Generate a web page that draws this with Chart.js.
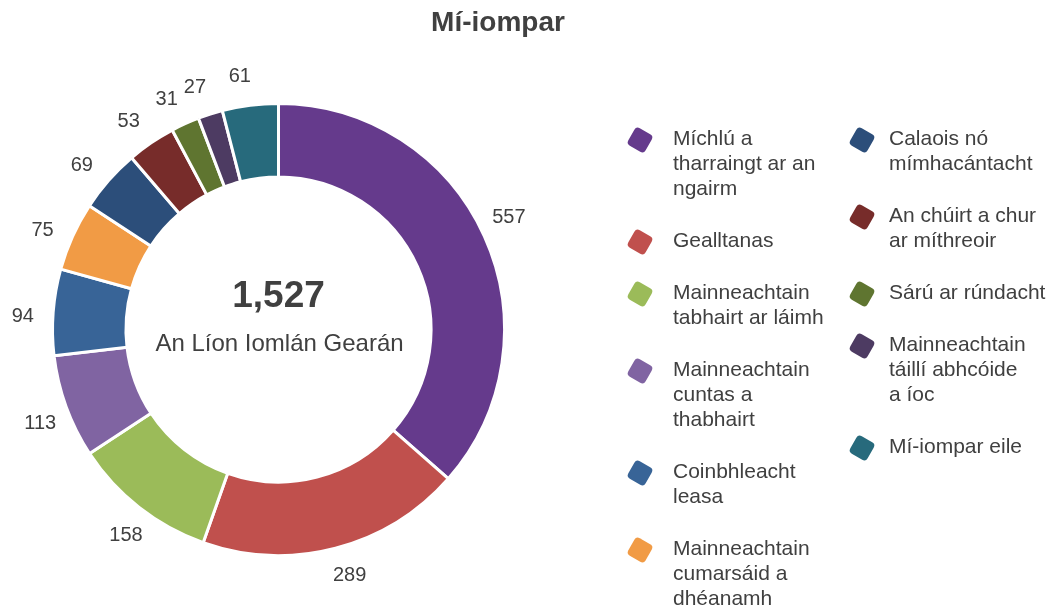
<!DOCTYPE html>
<html>
<head>
<meta charset="utf-8">
<title>Mí-iompar</title>
<script src="https://cdn.jsdelivr.net/npm/chart.js@4"></script>
<style>
  html, body { margin: 0; padding: 0; background: #fff; }
  canvas { display: block; }
</style>
</head>
<body>
<canvas id="myChart" width="1062" height="609"></canvas>
<script>
var title = 'Mí-iompar';
var centerCaption = 'An Líon Iomlán Gearán';

// categories, one array entry per legend line
var categories = [
  ['Míchlú a', 'tharraingt ar an', 'ngairm'],
  ['Gealltanas'],
  ['Mainneachtain', 'tabhairt ar láimh'],
  ['Mainneachtain', 'cuntas a', 'thabhairt'],
  ['Coinbhleacht', 'leasa'],
  ['Mainneachtain', 'cumarsáid a', 'dhéanamh'],
  ['Calaois nó', 'mímhacántacht'],
  ['An chúirt a chur', 'ar míthreoir'],
  ['Sárú ar rúndacht'],
  ['Mainneachtain', 'táillí abhcóide', 'a íoc'],
  ['Mí-iompar eile']
];

var complaints = [557, 289, 158, 113, 94, 75, 69, 53, 31, 27, 61];

var colours = [
  '#653a8c', '#c0504d', '#9bbb59', '#8064a2', '#386497', '#f19b45',
  '#2c4e7a', '#772c2a', '#5f7530', '#4d3b62', '#276a7c'
];

var textColour = '#404040';
var fontFamily = '"Liberation Sans", Arial, sans-serif';

var ctx = document.getElementById('myChart').getContext('2d');

var extras = {
  id: 'extras',
  afterDatasetsDraw(chart) {
    var c = chart.ctx;
    var meta = chart.getDatasetMeta(0);
    c.save();
    c.fillStyle = textColour;
    c.textBaseline = 'middle';

    // title
    c.textAlign = 'center';
    c.font = 'bold 28px ' + fontFamily;
    c.fillText(title, 498, 23);

    // total in the hole
    var total = complaints.reduce((a, b) => a + b, 0);
    var first = meta.data[0];
    c.font = 'bold 37px ' + fontFamily;
    c.fillText(total.toLocaleString('en-US'), first.x, 297);
    c.font = '24px ' + fontFamily;
    c.fillText(centerCaption, first.x + 1, 344);

    // value labels outside the ring (nudged a little anticlockwise like the original)
    c.font = '20px ' + fontFamily;
    var nudge = -1.5 * Math.PI / 180;
    meta.data.forEach((arc, i) => {
      var p = arc.getProps(['x', 'y', 'startAngle', 'endAngle', 'outerRadius'], true);
      var mid = (p.startAngle + p.endAngle) / 2 + nudge;
      var r = p.outerRadius + 30;
      c.fillText(complaints[i], p.x + Math.cos(mid) * r, p.y + Math.sin(mid) * r);
    });

    // legend in two columns
    var cols = [{ marker: 640, text: 673 }, { marker: 862, text: 889 }];
    var perCol = 6;
    var lineH = 25;
    var gap = 27;
    c.textAlign = 'left';
    c.font = '21px ' + fontFamily;
    var y = 139;
    categories.forEach((lines, i) => {
      var col = cols[i < perCol ? 0 : 1];
      if (i === perCol) y = 139;
      c.save();
      c.translate(col.marker, y + 1);
      c.rotate(30 * Math.PI / 180);
      c.fillStyle = colours[i];
      c.beginPath();
      c.roundRect(-10, -10, 20, 20, 4);
      c.fill();
      c.restore();
      lines.forEach((line, j) => {
        c.fillText(line, col.text, y + j * lineH);
      });
      y += lines.length * lineH + gap;
    });
    c.restore();
  }
};

var config = {
  type: 'doughnut',
  data: {
    labels: categories,
    datasets: [
      {
        label: title,
        data: complaints,
        backgroundColor: colours,
        borderColor: '#ffffff',
        borderWidth: 3
      }
    ]
  },
  options: {
    responsive: false,
    animation: false,
    cutout: '67.5%',
    layout: {
      padding: { left: 51, top: 102, right: 556, bottom: 52 }
    },
    plugins: {
      legend: false,
      title: false,
      tooltip: { enabled: false }
    }
  },
  plugins: [extras]
};

const chart = new Chart(ctx, config);
</script>
</body>
</html>
